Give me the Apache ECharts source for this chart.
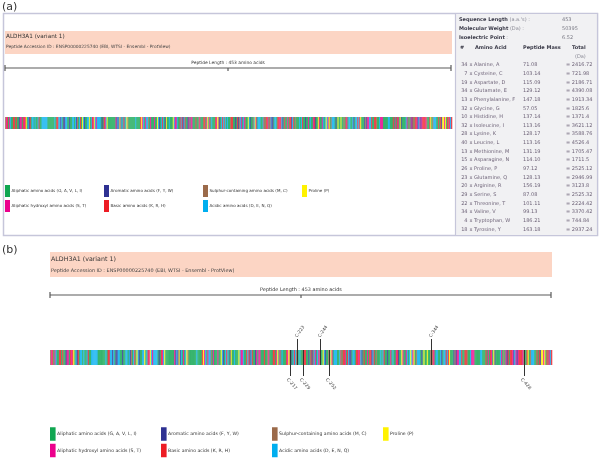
<!DOCTYPE html>
<html>
<head>
<meta charset="utf-8">
<script src="https://cdn.jsdelivr.net/npm/echarts@6/dist/echarts.min.js"></script>
<style>
  html, body { margin: 0; padding: 0; background: #fff; }
  #chart { width: 600px; height: 458px; }
</style>
</head>
<body>
<div id="chart"></div>
<script>
// ALDH3A1 peptide (453 aa)
const sequence =
  "MSKISEAVKRARAAFSSGRTRPLQFRIQQLEALQRLIQEQEQELVGALAADLHKNEWNAYYEEVVYVLEEIEYMIQKLPE" +
  "WAADEPVEKTPQTQQDELYIHSEPLGVVLVIGTWNYPFNLTIQPMVGAIAAGNAVVLKPSELSENMASLLATIIPQYLDK" +
  "DLYPVINGGVPETTELLKERFDHILYTGSTGVGKIIMTAAAKHLTPVTLELGGKSPCYVDKNCDLDVACRRIAWGKFMNS" +
  "GQTCVAPDYILCDPSIQNQIVEKLKKSLKEFYGEDAKKSRDYGRIISARHFQRVMGLIEGQKVAYGGTGDAATRYIAPTI" +
  "LTDVDPQSPVMQEEIFGPVLPIVCVRSLEEAIQFINQREKPLALYMFSSNDKVIKKMIAETSSGGVAANDVIVHITLHSL" +
  "PFGGVGNSGMGSYHGKKSFETFSHRRSCLVRPLMNDEGLKVRYPPSPAKMTQH";
const residues = sequence.split("");
const seqLength = 453;

const groupNames = [
  "Aliphatic amino acids (G, A, V, L, I)",
  "Aromatic amino acids (F, Y, W)",
  "Sulphur-containing amino acids (M, C)",
  "Proline (P)",
  "Aliphatic hydroxyl amino acids (S, T)",
  "Basic amino acids (K, R, H)",
  "Acidic amino acids (D, E, N, Q)",
];
const groupMembers = ["GAVLI", "FYW", "MC", "P", "ST", "KRH", "DENQ"];
const groupColors = ["#10a651", "#2e3192", "#9b6a4a", "#fff200", "#ec008c", "#ed1c24", "#00aeef"];

const cysPositions = [217, 223, 229, 244, 252, 344, 428];
const cysSides = ["down", "up", "down", "up", "down", "up", "down"];

const infoLabels = ["Sequence Length", "Molecular Weight", "Isoelectric Point"];
const infoUnits = [" (a.a.'s) :", " (Da) :", " :"];
const infoValues = ["453", "50395", "6.52"];

const aaNames = [
  "Alanine, A", "Cysteine, C", "Aspartate, D", "Glutamate, E", "Phenylalanine, F",
  "Glycine, G", "Histidine, H", "Isoleucine, I", "Lysine, K", "Leucine, L",
  "Methionine, M", "Asparagine, N", "Proline, P", "Glutamine, Q", "Arginine, R",
  "Serine, S", "Threonine, T", "Valine, V", "Tryptophan, W", "Tyrosine, Y",
];
const aaCounts = [34, 7, 19, 34, 13, 32, 10, 32, 28, 40, 13, 15, 26, 23, 20, 29, 22, 34, 4, 18];
const aaMasses = [
  "71.08", "103.14", "115.09", "129.12", "147.18", "57.05", "137.14", "113.16", "128.17", "113.16",
  "131.19", "114.10", "97.12", "128.13", "156.19", "87.08", "101.11", "99.13", "186.21", "163.18",
];
const aaTotals = [
  "2416.72", "721.98", "2186.71", "4390.08", "1913.34", "1825.6", "1371.4", "3621.12", "3588.76", "4526.4",
  "1705.47", "1711.5", "2525.12", "2946.99", "3123.8", "2525.32", "2224.42", "3370.42", "744.84", "2937.24",
];

const FONT = "DejaVu Sans, Verdana, sans-serif";

function colorOf(aa) {
  for (let g = 0; g < groupMembers.length; g++) {
    if (groupMembers[g].indexOf(aa) >= 0) return groupColors[g];
  }
  return "#999";
}

function txt(x, y, text, size, fill, opts) {
  opts = opts || {};
  return {
    type: "text",
    x: x,
    y: y,
    silent: true,
    style: {
      text: text,
      fontSize: size,
      fontFamily: FONT,
      fontWeight: opts.bold ? "bold" : "normal",
      fill: fill,
      align: opts.align || "left",
      verticalAlign: "middle",
      textAlign: opts.align || "left",
      textVerticalAlign: "middle",
    },
  };
}

function ruler(x1, x2, y, label, size) {
  const mid = Math.round((x1 + x2) / 2);
  const st = { stroke: "#5a5a5a", lineWidth: 1.2 };
  return [
    { type: "line", shape: { x1: x1, y1: y, x2: x2, y2: y }, style: st },
    { type: "line", shape: { x1: x1, y1: y - 3, x2: x1, y2: y + 3 }, style: st },
    { type: "line", shape: { x1: x2, y1: y - 3, x2: x2, y2: y + 3 }, style: st },
    { type: "line", shape: { x1: mid, y1: y, x2: mid, y2: y + 3 }, style: st },
    txt(mid, y - 5, label, size, "#333", { align: "center" }),
  ];
}

function legend(x0, colStep, y0, rowStep, swW, swH, size) {
  const out = [];
  const pos = [[0, 0], [1, 0], [2, 0], [3, 0], [0, 1], [1, 1], [2, 1]];
  groupNames.forEach(function (name, g) {
    const x = x0 + colStep * pos[g][0];
    const y = y0 + pos[g][1] * rowStep;
    out.push({ type: "rect", shape: { x: x, y: y - swH / 2, width: swW, height: swH }, style: { fill: groupColors[g] } });
    out.push(txt(x + swW + 1.5, y, name, size, "#333"));
  });
  return out;
}

const graphics = [];
// panel labels
graphics.push(txt(2, 7, "(a)", 11, "#333"));
graphics.push(txt(2, 250, "(b)", 11, "#333"));
// panel (a) frame and info table
graphics.push({ type: "rect", shape: { x: 3.5, y: 13.5, width: 594, height: 222 }, style: { fill: "#fff", stroke: "#c6c6da", lineWidth: 1.5 } });
graphics.push({ type: "rect", shape: { x: 455.5, y: 13.5, width: 142, height: 222 }, style: { fill: "#f1f1f3", stroke: "#c6c6da", lineWidth: 1.2 } });
// headers
graphics.push({ type: "rect", shape: { x: 5, y: 31, width: 447, height: 23 }, style: { fill: "#fcd5c4" } });
graphics.push(txt(6, 36.5, "ALDH3A1 (variant 1)", 5.7, "#333"));
graphics.push(txt(6, 47, "Peptide Accession ID : ENSP00000225740 (EBI, WTSI - Ensembl - ProtView)", 4.4, "#444"));
graphics.push({ type: "rect", shape: { x: 50, y: 252, width: 502, height: 25 }, style: { fill: "#fcd5c4" } });
graphics.push(txt(51, 259.5, "ALDH3A1 (variant 1)", 6.3, "#333"));
graphics.push(txt(51, 271, "Peptide Accession ID : ENSP00000225740 (EBI, WTSI - Ensembl - ProtView)", 4.9, "#444"));
// rulers
ruler(5, 451, 68, "Peptide Length : " + seqLength + " amino acids", 4.4).forEach(function (e) { graphics.push(e); });
ruler(50, 551, 295, "Peptide Length : " + seqLength + " amino acids", 4.9).forEach(function (e) { graphics.push(e); });
// legends
legend(5, 99, 191, 15, 5, 12, 4.1).forEach(function (e) { graphics.push(e); });
legend(50, 111, 434, 16.5, 5.6, 13.5, 4.6).forEach(function (e) { graphics.push(e); });

// info table text
infoLabels.forEach(function (lab, k) {
  const y = 20 + k * 8.8;
  graphics.push({
    type: "text", x: 459, y: y, silent: true,
    style: {
      text: "{b|" + lab + "}{u|" + infoUnits[k] + "}",
      rich: {
        b: { fontSize: 5, fontFamily: FONT, fontWeight: "bold", fill: "#3a3a48", color: "#3a3a48" },
        u: { fontSize: 5, fontFamily: FONT, fill: "#8a8a95", color: "#8a8a95" },
      },
      align: "left", verticalAlign: "middle", textAlign: "left", textVerticalAlign: "middle",
    },
  });
  graphics.push(txt(562, y, infoValues[k], 5, "#7a7a85"));
});
graphics.push(txt(460, 48, "#", 5, "#3a3a48", { bold: true }));
graphics.push(txt(475, 48, "Amino Acid", 5, "#3a3a48", { bold: true }));
graphics.push(txt(523, 48, "Peptide Mass", 5, "#3a3a48", { bold: true }));
graphics.push(txt(572, 48, "Total", 5, "#3a3a48", { bold: true }));
graphics.push(txt(575, 57, "(Da)", 5, "#8a8a95"));
aaNames.forEach(function (name, k) {
  const y = 65 + k * 8.65;
  const c = "#6f6479";
  graphics.push(txt(467.5, y, String(aaCounts[k]), 5, c, { align: "right" }));
  graphics.push(txt(469.5, y, "x " + name, 5, c));
  graphics.push(txt(523, y, aaMasses[k], 5, c));
  graphics.push(txt(566, y, "= " + aaTotals[k], 5, c));
});

function stripItem(params, api) {
  const i = api.value(0);
  const p0 = api.coord([i, 1]);
  const p1 = api.coord([i + 1, 0]);
  return {
    type: "rect",
    shape: { x: p0[0], y: p0[1], width: p1[0] - p0[0] + 0.3, height: p1[1] - p0[1] },
    style: { fill: colorOf(residues[params.dataIndex]), opacity: 0.8 },
  };
}

function markerItem(params, api) {
  const pos = api.value(0);
  const top = api.coord([pos - 0.5, 1]);
  const bot = api.coord([pos - 0.5, 0]);
  const x = Math.round(top[0]) + 0.5;
  const up = cysSides[params.dataIndex] === "up";
  const y1 = up ? top[1] - 11 : top[1];
  const y2 = up ? bot[1] : bot[1] + 11;
  return {
    type: "group",
    children: [
      { type: "line", shape: { x1: x, y1: y1, x2: x, y2: y2 }, style: { stroke: "#333", lineWidth: 1 } },
      {
        type: "text",
        x: up ? x - 1.5 : x - 3,
        y: up ? y1 - 2 : y2 + 3,
        rotation: up ? 0.95 : -0.85,
        style: {
          text: "C-" + pos, fontSize: 4.5, fontFamily: FONT, fill: "#444",
          align: "left", verticalAlign: "middle", textAlign: "left", textVerticalAlign: "middle",
        },
      },
    ],
  };
}

const stripData = residues.map(function (r, i) { return [i, 1]; });

const chart = echarts.init(document.getElementById("chart"));
chart.setOption({
  animation: false,
  backgroundColor: "#fff",
  graphic: { elements: graphics },
  grid: [
    { left: 5, top: 117, width: 447, height: 12 },
    { left: 50, top: 350, width: 502, height: 15 },
  ],
  xAxis: [
    { type: "value", gridIndex: 0, min: 0, max: seqLength, show: false },
    { type: "value", gridIndex: 1, min: 0, max: seqLength, show: false },
  ],
  yAxis: [
    { type: "value", gridIndex: 0, min: 0, max: 1, show: false },
    { type: "value", gridIndex: 1, min: 0, max: 1, show: false },
  ],
  series: [
    { type: "custom", xAxisIndex: 0, yAxisIndex: 0, data: stripData, renderItem: stripItem, z: 5 },
    { type: "custom", xAxisIndex: 1, yAxisIndex: 1, data: stripData, renderItem: stripItem, z: 5 },
    {
      type: "custom", xAxisIndex: 1, yAxisIndex: 1, z: 10,
      data: cysPositions.map(function (p) { return [p, 1]; }),
      renderItem: markerItem,
    },
  ],
});
</script>
</body>
</html>
